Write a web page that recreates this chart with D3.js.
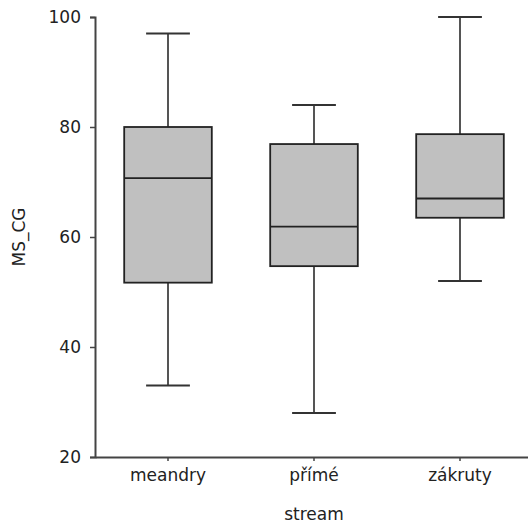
<!DOCTYPE html>
<html>
<head>
<meta charset="utf-8">
<script src="https://cdn.jsdelivr.net/npm/d3@7"></script>
<style>
  body { margin: 0; background: #fff; }
  svg { display: block; }
  text { font-family: "DejaVu Sans", sans-serif; fill: #222; }
</style>
</head>
<body>
<svg id="chart" width="528" height="524"></svg>
<script>
// hodnoty
const categories = ["meandry", "přímé", "zákruty"];
const whiskerMin = [33, 28, 52];
const q1 = [51.7, 54.7, 63.5];
const median = [70.7, 61.9, 67];
const q3 = [80, 76.9, 78.7];
const whiskerMax = [97, 84, 100];
const yTicks = [20, 40, 60, 80, 100];

const svg = d3.select("#chart");
const plotLeft = 95, plotTop = 17, plotBottom = 457;

const x = d3.scaleBand().domain(categories).range([plotLeft, 533]).padding(0);
const y = d3.scaleLinear().domain([20, 100]).range([plotBottom, plotTop]);

const boxes = categories.map((c, i) => ({
  cat: c, min: whiskerMin[i], q1: q1[i], med: median[i], q3: q3[i], max: whiskerMax[i]
}));

const cx = d => x(d.cat) + x.bandwidth() / 2;
const boxW = x.bandwidth() * 0.6;
const capW = x.bandwidth() * 0.3;

const g = svg.append("g");

// vousy
g.selectAll(".whisker").data(boxes).join("line")
  .attr("class", "whisker")
  .attr("x1", cx).attr("x2", cx)
  .attr("y1", d => y(d.max)).attr("y2", d => y(d.min))
  .attr("stroke", "#555").attr("stroke-width", 2);

["max", "min"].forEach(k => {
  g.selectAll(".cap-" + k).data(boxes).join("line")
    .attr("class", "cap-" + k)
    .attr("x1", d => cx(d) - capW / 2).attr("x2", d => cx(d) + capW / 2)
    .attr("y1", d => y(d[k])).attr("y2", d => y(d[k]))
    .attr("stroke", "#333").attr("stroke-width", 2);
});

// krabice
g.selectAll(".box").data(boxes).join("rect")
  .attr("class", "box")
  .attr("x", d => cx(d) - boxW / 2)
  .attr("width", boxW)
  .attr("y", d => y(d.q3))
  .attr("height", d => y(d.q1) - y(d.q3))
  .attr("fill", "#c0c0c0")
  .attr("stroke", "#222").attr("stroke-width", 1.8);

g.selectAll(".median").data(boxes).join("line")
  .attr("class", "median")
  .attr("x1", d => cx(d) - boxW / 2).attr("x2", d => cx(d) + boxW / 2)
  .attr("y1", d => y(d.med)).attr("y2", d => y(d.med))
  .attr("stroke", "#222").attr("stroke-width", 1.8);

// osy
const yAxis = svg.append("g")
  .attr("transform", `translate(${plotLeft},0)`)
  .call(d3.axisLeft(y).tickValues(yTicks).tickSize(5).tickPadding(9));
yAxis.selectAll("text").style("font-size", "17px").attr("fill", "#222");

const xAxis = svg.append("g")
  .attr("transform", `translate(0,${plotBottom})`)
  .call(d3.axisBottom(x).tickSize(4).tickPadding(8).tickSizeOuter(0));
xAxis.selectAll("text").style("font-size", "17px").attr("fill", "#222");

[yAxis, xAxis].forEach(a => {
  a.select(".domain").attr("stroke", "#444").attr("stroke-width", 2);
  a.selectAll(".tick line").attr("stroke", "#444").attr("stroke-width", 1.5);
});

svg.append("text")
  .attr("transform", "translate(20,237) rotate(-90)")
  .attr("text-anchor", "middle")
  .attr("dominant-baseline", "middle")
  .style("font-size", "17px")
  .text("MS_CG");

svg.append("text")
  .attr("x", x("přímé") + x.bandwidth() / 2)
  .attr("y", 515)
  .attr("text-anchor", "middle")
  .attr("dominant-baseline", "middle")
  .style("font-size", "17px")
  .text("stream");
</script>
</body>
</html>
